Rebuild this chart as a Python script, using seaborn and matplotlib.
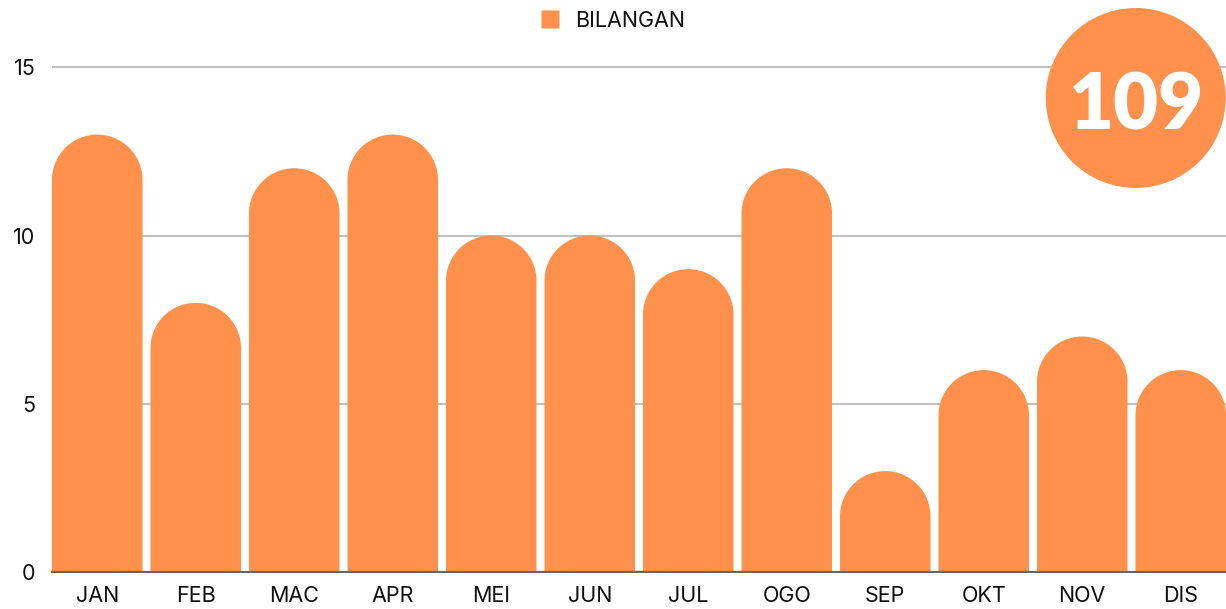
"""
Bilangan bulanan - carta bar dengan bucu atas bulat
"""

import matplotlib
matplotlib.use('Agg')
import matplotlib.pyplot as plt
from matplotlib.patches import Circle, PathPatch
from matplotlib.path import Path
from matplotlib.lines import Line2D
import numpy as np
import seaborn as sns

# data
bulan = ['JAN', 'FEB', 'MAC', 'APR', 'MEI', 'JUN', 'JUL', 'OGO', 'SEP', 'OKT', 'NOV', 'DIS']
bilangan = [13, 8, 12, 13, 10, 10, 9, 12, 3, 6, 7, 6]
label_siri = 'BILANGAN'
y_ticks = [0, 5, 10, 15]

oren = '#FF914D'
teks = '#111111'
lebar = 0.919

sns.set_theme(style='white')
plt.rcParams['font.family'] = ['Inter', 'DejaVu Sans']

W, H = 1226, 609
fig = plt.figure(figsize=(W / 100, H / 100), dpi=100)
ax = fig.add_axes([52 / W, 1 - 572 / H, 1 - 52 / W, 572 / H])

sns.barplot(x=bulan, y=bilangan, color=oren, saturation=1, width=lebar,
            linewidth=0, ax=ax, zorder=3)

ax.set_ylim(0, 17)
ax.set_xlim(-lebar / 2, len(bulan) - 1 + lebar / 2)
ax.set_yticks(y_ticks)
ax.set_xlabel('')
ax.set_ylabel('')
ax.grid(axis='y', color='#c0c0c0', linewidth=1.5, zorder=0)
ax.grid(axis='x', visible=False)
for s in ['top', 'right', 'left']:
    ax.spines[s].set_visible(False)
ax.spines['bottom'].set_color('#666666')
ax.spines['bottom'].set_linewidth(1.5)
ax.spines['bottom'].set_zorder(5)
ax.tick_params(axis='y', length=0, pad=12, labelsize=15.5, labelcolor=teks)
ax.tick_params(axis='x', length=0, pad=10, labelsize=15.5, labelcolor=teks)

# bucu atas bulat: ganti setiap bar dengan satu laluan (segi empat + separuh elips)
fig.canvas.draw()
px_x = ax.transData.transform((1, 0))[0] - ax.transData.transform((0, 0))[0]
px_y = ax.transData.transform((0, 1))[1] - ax.transData.transform((0, 0))[1]
arka = Path.arc(0, 180)
for p in list(ax.patches):
    x0, w, h = p.get_x(), p.get_width(), p.get_height()
    ry = (w * px_x / 2) / px_y
    cx, cy = x0 + w / 2, h - ry
    av = arka.vertices * np.array([w / 2, ry]) + np.array([cx, cy])
    verts = [(x0 + w, 0), (x0 + w, cy)] + [tuple(v) for v in av[1:]] + [(x0, 0), (x0 + w, 0)]
    codes = [Path.MOVETO, Path.LINETO] + list(arka.codes[1:]) + [Path.LINETO, Path.CLOSEPOLY]
    p.set_visible(False)
    ax.add_patch(PathPatch(Path(verts, codes), facecolor=oren, edgecolor='none', zorder=3))

# legenda
handle = Line2D([], [], marker='s', linestyle='none', markersize=12.5,
                markerfacecolor=oren, markeredgecolor='none')
fig.legend([handle], [label_siri], loc='center', bbox_to_anchor=(0.5, 1 - 21 / H),
           frameon=False, fontsize=15.5, handlelength=0.8, handletextpad=0.75,
           labelcolor=teks)

# bulatan jumlah
jumlah = sum(bilangan)
fig.add_artist(Circle((11.357, (H - 98) / 100), 0.9, transform=fig.dpi_scale_trans,
                      facecolor=oren, edgecolor='none', zorder=10))
fig.text(1136 / W, 1 - 130 / H, str(jumlah), ha='center', va='baseline',
         fontsize=56, fontweight='heavy', color='white',
         family=['Lato', 'DejaVu Sans'], zorder=11)

fig.savefig('out.png', dpi=100)
